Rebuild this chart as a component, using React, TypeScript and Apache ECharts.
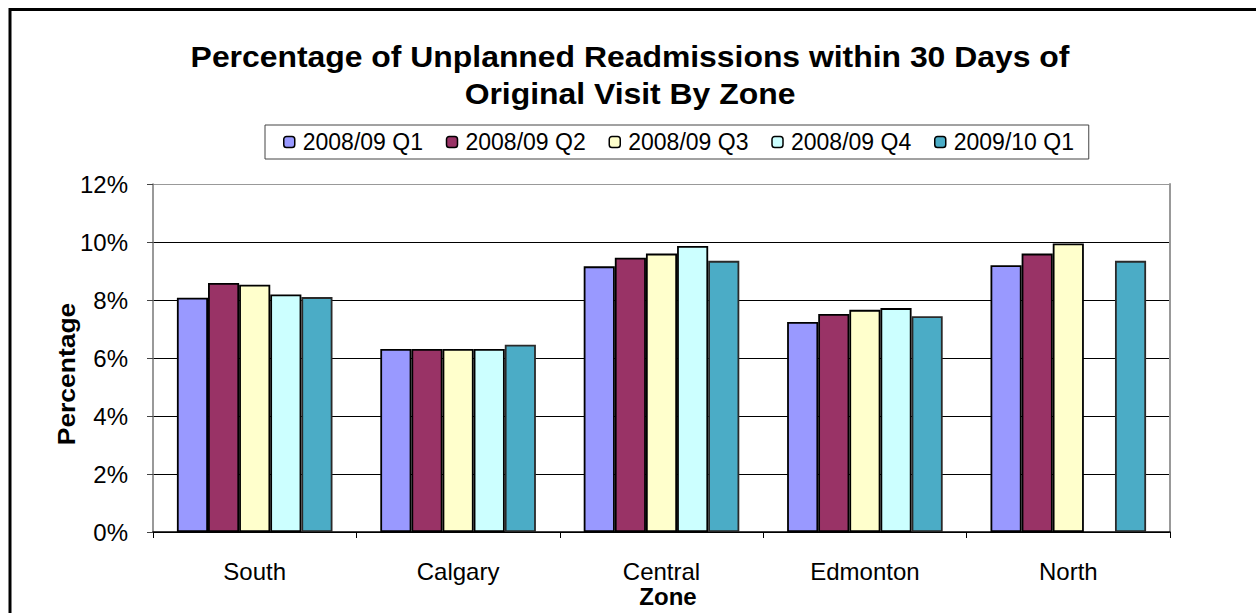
import React, { useEffect, useRef } from "react";
import * as echarts from "echarts";

// Zones on the category axis
const zones = ["South", "Calgary", "Central", "Edmonton", "North"];

// Quarter labels (one series each)
const quarters = ["2008/09 Q1", "2008/09 Q2", "2008/09 Q3", "2008/09 Q4", "2009/10 Q1"];

// Percent of unplanned readmissions within 30 days, per zone
const q1_0809 = [8.08, 6.31, 9.16, 7.24, 9.2];
const q2_0809 = [8.59, 6.31, 9.46, 7.52, 9.6];
const q3_0809 = [8.53, 6.31, 9.6, 7.66, 9.95];
const q4_0809 = [8.19, 6.31, 9.86, 7.72, null];
const q1_0910 = [8.1, 6.46, 9.35, 7.44, 9.35];

const seriesValues = [q1_0809, q2_0809, q3_0809, q4_0809, q1_0910];
const seriesColors = ["#9999FF", "#993366", "#FFFFCC", "#CCFFFF", "#4BACC6"];
const seriesBorders = ["#000", "#000", "#000", "#000", "#2a2a2a"];

// Y axis ticks (percent)
const yMin = 0;
const yMax = 12;
const yStep = 2;

const titleLines = [
  "Percentage of Unplanned Readmissions within 30 Days of",
  "Original Visit By Zone",
];

const FONT = "'Liberation Sans', Arial, sans-serif";

export default function App() {
  const ref = useRef<HTMLDivElement>(null);

  useEffect(() => {
    if (!ref.current) return;
    const chart = echarts.init(ref.current, undefined, { renderer: "svg" });

    const gridLineColors = ["#000", "#000", "#000", "#000", "#000", "#000", "#999"];

    chart.setOption({
      animation: false,
      backgroundColor: "#fff",
      legend: {
        data: quarters,
        left: 265,
        top: 125,
        orient: "horizontal",
        padding: [5.5, 10, 5.5, 18],
        itemGap: 18,
        itemWidth: 11,
        itemHeight: 11,
        itemStyle: { borderColor: "#000", borderWidth: 1.5 },
        borderColor: "#444",
        borderWidth: 1,
        textStyle: {
          fontFamily: FONT,
          fontSize: 23,
          color: "#000",
          width: 125,
          lineHeight: 23,
          padding: [0, 0, 0, 3],
        },
      },
      grid: {
        left: 153,
        top: 184,
        right: 86,
        bottom: 81,
        containLabel: false,
      },
      xAxis: {
        type: "category",
        data: zones,
        axisLine: { show: true, lineStyle: { color: "#000", width: 1.5 } },
        axisTick: { show: true, length: 6, lineStyle: { color: "#000" } },
        axisLabel: {
          fontFamily: FONT,
          fontSize: 24,
          color: "#000",
          margin: 27,
        },
        splitLine: { show: false },
      },
      yAxis: [
        {
          type: "value",
          min: yMin,
          max: yMax,
          interval: yStep,
          axisLine: { show: true, lineStyle: { color: "#777", width: 1.5 } },
          axisTick: { show: true, length: 6, lineStyle: { color: "#444" } },
          axisLabel: {
            fontFamily: FONT,
            fontSize: 24,
            color: "#000",
            margin: 25,
            formatter: "{value}%",
          },
          splitLine: {
            show: true,
            lineStyle: { color: gridLineColors, width: 1.2 },
          },
        },
        {
          type: "value",
          position: "right",
          min: yMin,
          max: yMax,
          interval: yStep,
          axisLine: { show: true, lineStyle: { color: "#999", width: 2 } },
          axisTick: { show: false },
          axisLabel: { show: false },
          splitLine: { show: false },
        },
      ],
      series: quarters.map((name, i) => ({
        name,
        type: "bar",
        yAxisIndex: 0,
        data: seriesValues[i].map((v) => (v === null ? "-" : v)),
        barGap: "0%",
        barCategoryGap: "23.5%",
        itemStyle: {
          color: seriesColors[i],
          borderColor: seriesBorders[i],
          borderWidth: 1.8,
        },
      })),
      graphic: [
        {
          type: "rect",
          shape: { x: 10, y: 9.5, width: 1400, height: 800 },
          style: { fill: "none", stroke: "#000", lineWidth: 3 },
          silent: true,
        },
        // Chart title, two centred lines
        ...titleLines.map((line, i) => ({
          type: "text",
          x: 630,
          y: i === 0 ? 56.5 : 94,
          scaleX: 1.1,
          style: {
            text: line,
            fontFamily: FONT,
            fontSize: 29,
            fontWeight: "bold",
            fill: "#000",
            align: "center",
            verticalAlign: "middle",
          },
        })),
        {
          type: "text",
          x: 67,
          y: 374,
          rotation: Math.PI / 2,
          scaleX: 1.15,
          style: {
            text: "Percentage",
            fontFamily: FONT,
            fontSize: 23,
            fontWeight: "bold",
            fill: "#000",
            align: "center",
            verticalAlign: "middle",
          },
        },
        {
          type: "text",
          x: 668,
          y: 596.5,
          style: {
            text: "Zone",
            fontFamily: FONT,
            fontSize: 24,
            fontWeight: "bold",
            fill: "#000",
            align: "center",
            verticalAlign: "middle",
          },
        },
      ],
    });

    return () => chart.dispose();
  }, []);

  return (
    <div
      ref={ref}
      style={{ position: "absolute", left: 0, top: 0, width: 1256, height: 613 }}
    />
  );
}
